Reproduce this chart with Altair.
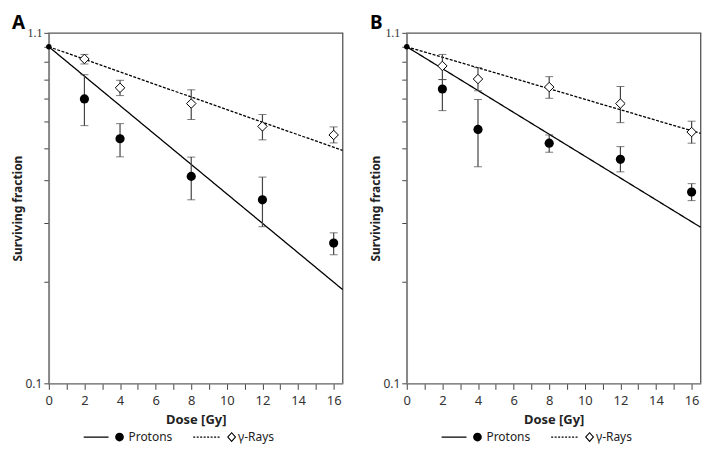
import altair as alt
import pandas as pd

# ---------------- data ----------------
series = ["Protons", "γ-Rays"]
dose = [0, 2, 4, 8, 12, 16]

# Panel A
a_pro = [1.0, 0.700, 0.533, 0.412, 0.351, 0.261]
a_pro_lo = [1.0, 0.583, 0.471, 0.351, 0.292, 0.241]
a_pro_hi = [1.0, 0.826, 0.591, 0.470, 0.410, 0.280]
a_gam = [1.0, 0.920, 0.755, 0.678, 0.580, 0.547]
a_gam_lo = [1.0, 0.889, 0.716, 0.608, 0.529, 0.518]
a_gam_hi = [1.0, 0.949, 0.795, 0.745, 0.629, 0.578]

# Panel B
b_pro = [1.0, 0.749, 0.568, 0.517, 0.463, 0.370]
b_pro_lo = [1.0, 0.646, 0.440, 0.486, 0.425, 0.349]
b_pro_hi = [1.0, 0.799, 0.697, 0.547, 0.505, 0.392]
b_gam = [1.0, 0.877, 0.802, 0.759, 0.678, 0.558]
b_gam_lo = [1.0, 0.799, 0.740, 0.703, 0.595, 0.517]
b_gam_hi = [1.0, 0.949, 0.867, 0.815, 0.762, 0.601]

# fitted lines (end points)
fit_dose = [0, 16.5]
a_fit_pro = [1.0, 0.190]
a_fit_gam = [1.0, 0.492]
b_fit_pro = [1.0, 0.291]
b_fit_gam = [1.0, 0.553]

x_ticks = list(range(0, 17))
y_ticks = [0.1, 0.2, 0.3, 0.4, 0.5, 0.6, 0.7, 0.8, 0.9, 1.0, 1.1]
x_domain = [0, 16.5]
y_domain = [0.1, 1.1]

# ---------------- styling ----------------
FONT = "Noto Sans"
W, H = 295, 352


def rect(x0, x1, h=0.16):
    return "M%.3f,%.3fH%.3fV%.3fH%.3fZ" % (x0, -h, x1, h, x0)


# legend symbols (filled outlines only); symbolSize 64 -> 1 unit = 4 px
p_pro = rect(-1, 5.25) + "M6.9,0A1.1,1.1,0,1,0,9.1,0A1.1,1.1,0,1,0,6.9,0Z"
parts = []
s = -1.0
while s < 5.6:
    parts.append(rect(s, min(s + 0.5, 6.0)))
    s += 0.875
cx = 8.65
parts.append("M%.3f,0L%.3f,-1.3L%.3f,0L%.3f,1.3Z" % (cx - 1.15, cx, cx + 1.15, cx))
parts.append("M%.3f,0L%.3f,0.88L%.3f,0L%.3f,-0.88Z" % (cx - 0.78, cx, cx + 0.78, cx))
p_gam = "".join(parts)

xaxis = alt.Axis(
    values=x_ticks,
    labelExpr="datum.value % 2 == 0 ? datum.label : ''",
    title="Dose [Gy]", titleFont=FONT, titleFontSize=13, titleFontWeight="bold",
    titleColor="#222", titlePadding=6,
    labelFont=FONT, labelFontSize=13, labelColor="#333", labelPadding=5,
    tickColor="#444", tickSize=6, domainColor="#888", domainWidth=1.5,
    grid=False, labelFlush=False,
)
yaxis = alt.Axis(
    values=y_ticks,
    labelExpr="(datum.value == 0.1 || datum.value == 1.1) ? format(datum.value, '.1f') : ''",
    title="Surviving fraction", titleFont=FONT, titleFontSize=12, titleFontWeight="bold",
    titleColor="#222", titlePadding=0,
    labelFont={"condition": {"test": "datum.value > 1", "value": "Liberation Serif"}, "value": FONT},
    labelFontSize=12, labelColor="#333", labelPadding=2,
    tickColor="#444", tickSize=5, domainColor="#888", domainWidth=1.5,
    grid=False,
)


def panel(letter, pro, pro_lo, pro_hi, gam, gam_lo, gam_hi, fit_pro, fit_gam):
    pts = pd.DataFrame({
        "dose": dose + dose,
        "sf": pro + gam,
        "lo": pro_lo + gam_lo,
        "hi": pro_hi + gam_hi,
        "series": [series[0]] * len(dose) + [series[1]] * len(dose),
    })
    fits = pd.DataFrame({
        "dose": fit_dose + fit_dose,
        "sf": fit_pro + fit_gam,
        "series": [series[0]] * 2 + [series[1]] * 2,
    })
    x = alt.X("dose:Q", scale=alt.Scale(domain=x_domain, nice=False, zero=False), axis=xaxis)
    y = alt.Y("sf:Q", scale=alt.Scale(type="log", domain=y_domain, nice=False), axis=yaxis)
    ylo = alt.Y("lo:Q", scale=alt.Scale(type="log", domain=y_domain, nice=False), axis=yaxis)

    lines = alt.Chart(fits).mark_line(color="black", strokeWidth=1.3).encode(
        x=x, y=y,
        strokeDash=alt.StrokeDash("series:N", scale=alt.Scale(domain=series, range=[[1, 0], [3, 1.5]]), legend=None),
    )
    err = alt.Chart(pts).transform_filter("datum.dose > 0").mark_errorbar(
        ticks={"size": 8, "color": "#444", "strokeWidth": 1.2},
        rule={"color": "#444", "strokeWidth": 1.2},
    ).encode(x=x, y=ylo, y2="hi:Q")
    pro_pts = alt.Chart(pts).transform_filter("datum.series == 'Protons'").mark_point(
        shape="circle", filled=True, color="black", opacity=1
    ).encode(x=x, y=y, size=alt.condition("datum.dose == 0", alt.value(30), alt.value(85)))
    gam_pts = alt.Chart(pts).transform_filter("datum.series != 'Protons' && datum.dose > 0").mark_point(
        shape="diamond", filled=True, fill="white", stroke="black", strokeWidth=1, opacity=1, size=90
    ).encode(x=x, y=y)

    leg = alt.Legend(
        title=None, orient="none", legendX=33, legendY=400, direction="horizontal",
        symbolSize=64, symbolFillColor="black", symbolStrokeColor="transparent",
        symbolStrokeWidth=0, symbolOpacity=1,
        labelFont=FONT, labelFontSize=12, labelColor="#222", labelOffset=35,
        columnPadding=19, padding=0,
    )
    leg_layer = alt.Chart(pd.DataFrame({"series": series})).transform_filter("false").mark_point(
        filled=True, color="black"
    ).encode(
        shape=alt.Shape("series:N", scale=alt.Scale(domain=series, range=[p_pro, p_gam]), legend=leg),
    )
    return alt.layer(lines, err, gam_pts, pro_pts, leg_layer).properties(
        width=W, height=H,
        title=alt.TitleParams(letter, anchor="start", frame="bounds", fontSize=19,
                              fontWeight="bold", font=FONT, color="black", offset=-6),
    )


pa = panel("A", a_pro, a_pro_lo, a_pro_hi, a_gam, a_gam_lo, a_gam_hi, a_fit_pro, a_fit_gam)
pb = panel("B", b_pro, b_pro_lo, b_pro_hi, b_gam, b_gam_lo, b_gam_hi, b_fit_pro, b_fit_gam)

chart = alt.hconcat(pa, pb, spacing=22.5).resolve_scale(
    shape="independent"
).resolve_legend(
    shape="independent"
).properties(padding={"top": 4, "left": 3, "right": 0, "bottom": 0}, background="white").configure_view(
    stroke="#555", strokeWidth=1.3
)

chart.save("out.html", embed_options={"renderer": "svg", "actions": False})
